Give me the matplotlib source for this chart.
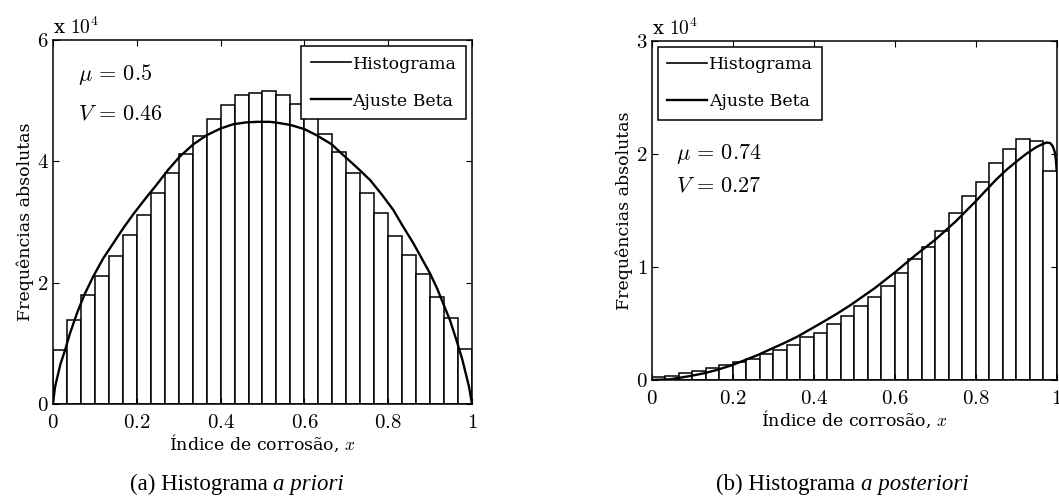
import matplotlib

matplotlib.use("Agg")
import matplotlib.pyplot as plt
import numpy as np
from matplotlib.offsetbox import AnnotationBbox, HPacker, TextArea

# frequencias em unidades de 10^4, 30 classes em [0, 1]
PRIORI_COUNTS = [
    0.89, 1.38, 1.80, 2.11, 2.44, 2.79, 3.12, 3.47, 3.80, 4.12,
    4.42, 4.69, 4.92, 5.10, 5.13, 5.16, 5.10, 4.94, 4.71, 4.45,
    4.16, 3.81, 3.47, 3.14, 2.77, 2.46, 2.15, 1.77, 1.41, 0.90,
]
POSTERIORI_COUNTS = [
    0.024, 0.038, 0.059, 0.082, 0.103, 0.129, 0.156, 0.185, 0.226, 0.265,
    0.312, 0.383, 0.412, 0.491, 0.568, 0.656, 0.735, 0.832, 0.950, 1.074,
    1.180, 1.32, 1.48, 1.63, 1.75, 1.92, 2.04, 2.13, 2.11, 1.85,
]

# ajuste beta
PRIORI_FIT_X = [
    0.0, 0.005, 0.009, 0.018, 0.029, 0.040, 0.057, 0.075, 0.096, 0.120,
    0.144, 0.168, 0.192, 0.220, 0.247, 0.275, 0.303, 0.335, 0.367, 0.400,
    0.430, 0.460, 0.486, 0.518, 0.540, 0.566, 0.600, 0.629, 0.665, 0.693,
    0.725, 0.757, 0.785, 0.812, 0.835, 0.860, 0.880, 0.900, 0.917, 0.931,
    0.948, 0.963, 0.977, 0.987, 0.993, 1.0,
]
PRIORI_FIT_Y = [
    0.0, 0.28, 0.40, 0.66, 0.89, 1.15, 1.49, 1.80, 2.10, 2.40,
    2.65, 2.90, 3.13, 3.38, 3.61, 3.86, 4.08, 4.28, 4.43, 4.54,
    4.61, 4.64, 4.65, 4.65, 4.63, 4.60, 4.53, 4.43, 4.28, 4.10,
    3.90, 3.69, 3.45, 3.20, 2.93, 2.65, 2.40, 2.15, 1.90, 1.66,
    1.37, 1.05, 0.73, 0.45, 0.28, 0.0,
]
POSTERIORI_FIT_X = [
    0.0, 0.045, 0.095, 0.130, 0.160, 0.195, 0.226, 0.260, 0.292, 0.325,
    0.358, 0.390, 0.424, 0.457, 0.490, 0.52, 0.55, 0.575, 0.60, 0.625,
    0.65, 0.675, 0.70, 0.725, 0.75, 0.775, 0.80, 0.825, 0.85, 0.875,
    0.90, 0.925, 0.95, 0.965, 0.975, 0.984, 0.99, 0.995, 0.998, 1.0,
]
POSTERIORI_FIT_Y = [
    0.0, 0.006, 0.035, 0.060, 0.088, 0.127, 0.17, 0.218, 0.27, 0.323,
    0.38, 0.445, 0.515, 0.585, 0.66, 0.735, 0.81, 0.88, 0.95, 1.025,
    1.10, 1.17, 1.24, 1.32, 1.40, 1.49, 1.58, 1.675, 1.77, 1.855,
    1.93, 2.0, 2.06, 2.085, 2.10, 2.095, 2.07, 2.02, 1.95, 1.85,
]

X_TICKS = [0, 0.2, 0.4, 0.6, 0.8, 1]
X_TICK_LABELS = ["0", "0.2", "0.4", "0.6", "0.8", "1"]
PRIORI_Y_TICKS = [0, 2, 4, 6]
POSTERIORI_Y_TICKS = [0, 1, 2, 3]

plt.rcParams["font.family"] = "serif"
plt.rcParams["font.serif"] = ["Liberation Serif", "DejaVu Serif"]
plt.rcParams["mathtext.fontset"] = "cm"


def draw(ax, counts, fit_x, fit_y, yticks, legend_loc, stats, stats_y):
    edges = np.linspace(0, 1, len(counts) + 1)
    ax.bar(edges[:-1], counts, width=edges[1] - edges[0], align="edge",
           facecolor="white", edgecolor="black", linewidth=1.1,
           label="Histograma")
    ax.plot(fit_x, fit_y, color="black", linewidth=1.7, label="Ajuste Beta")
    ax.set_xlim(0, 1)
    ax.set_ylim(yticks[0], yticks[-1])
    ax.set_xticks(X_TICKS)
    ax.set_xticklabels([f"${t}$" for t in X_TICK_LABELS], fontsize=15)
    ax.set_yticks(yticks)
    ax.set_yticklabels([f"${t}$" for t in yticks], fontsize=15)
    ax.tick_params(direction="in", top=True, right=True, length=4)
    ax.tick_params(axis="x", pad=7)
    ax.tick_params(axis="y", pad=3)
    for s in ax.spines.values():
        s.set_linewidth(1.1)
    ax.set_xlabel(r"Índice de corrosão, $x$", fontsize=12.5, labelpad=0,
                  family="DejaVu Serif")
    ax.set_ylabel("Frequências absolutas", fontsize=12.5, labelpad=2,
                  family="DejaVu Serif")
    # legenda: as duas entradas aparecem como linhas pretas
    handles = [plt.Line2D([], [], color="black", linewidth=1.2),
               plt.Line2D([], [], color="black", linewidth=1.7)]
    leg = ax.legend(handles, ["Histograma", "Ajuste Beta"], loc=legend_loc,
                    fancybox=False, framealpha=1, edgecolor="black",
                    handlelength=2.3, handletextpad=0.1, labelspacing=1.15,
                    borderaxespad=0.35, borderpad=0.55,
                    prop={"family": "DejaVu Serif", "size": 12.5})
    leg.get_frame().set_linewidth(1.1)
    for txt, y in zip(stats, stats_y):
        ax.text(0.06, y, txt, transform=ax.transAxes, fontsize=16,
                va="center")
    ax.text(0.0, 1.005, r"x $10^4$", transform=ax.transAxes, fontsize=14,
            va="bottom", ha="left", family="DejaVu Serif")


def caption(fig, x, y, plain, italic):
    box = HPacker(children=[
        TextArea(plain, textprops=dict(fontsize=16.5,
                                       family="Liberation Serif")),
        TextArea(italic, textprops=dict(fontsize=16.5, style="italic",
                                        family="Liberation Serif")),
    ], sep=0, pad=0)
    fig.add_artist(AnnotationBbox(box, (x, y), xycoords="figure fraction",
                                  frameon=False, box_alignment=(0.5, 0.5)))


fig = plt.figure(figsize=(10.59, 4.96), dpi=100)
ax1 = fig.add_axes([0.050, 0.1855, 0.3957, 0.734])
ax2 = fig.add_axes([0.6154, 0.2339, 0.3824, 0.684])

draw(ax1, PRIORI_COUNTS, PRIORI_FIT_X, PRIORI_FIT_Y, PRIORI_Y_TICKS,
     "upper right", [r"$\mu\,=\,0.5$", r"$V\,=\,0.46$"], [0.905, 0.795])
draw(ax2, POSTERIORI_COUNTS, POSTERIORI_FIT_X, POSTERIORI_FIT_Y,
     POSTERIORI_Y_TICKS, "upper left", [r"$\mu\,=\,0.74$", r"$V\,=\,0.27$"],
     [0.665, 0.57])

caption(fig, 237 / 1059, 1 - 484 / 496, "(a) Histograma ", "a priori")
caption(fig, 842 / 1059, 1 - 484 / 496, "(b) Histograma ", "a posteriori")

fig.savefig("out.png", dpi=100)
